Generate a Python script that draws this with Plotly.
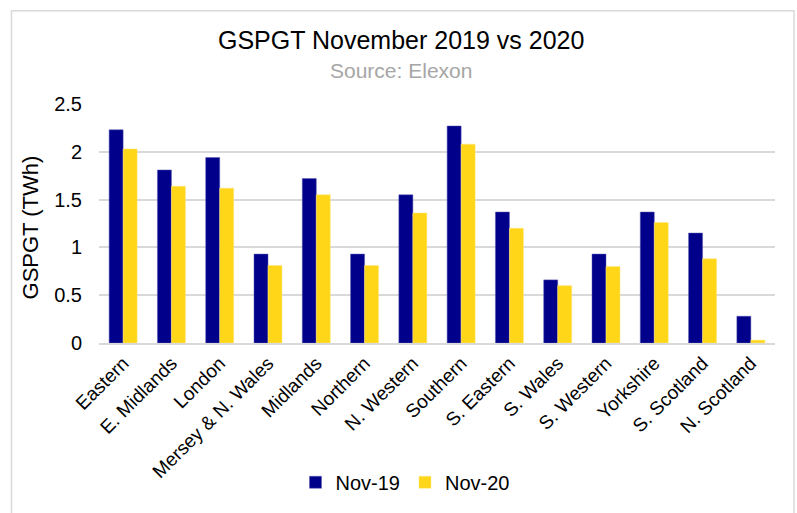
import plotly.graph_objects as go

regions = ["Eastern", "E. Midlands", "London", "Mersey & N. Wales", "Midlands",
           "Northern", "N. Western", "Southern", "S. Eastern", "S. Wales",
           "S. Western", "Yorkshire", "S. Scotland", "N. Scotland"]
nov19 = [2.23, 1.81, 1.94, 0.93, 1.72, 0.93, 1.55, 2.27, 1.37, 0.66, 0.93, 1.37, 1.15, 0.28]
nov20 = [2.03, 1.64, 1.62, 0.81, 1.55, 0.81, 1.36, 2.08, 1.20, 0.60, 0.80, 1.26, 0.88, 0.03]
yticks = [0, 0.5, 1, 1.5, 2, 2.5]
yticklabels = ["0", "0.5", "1", "1.5", "2", "2.5"]

FONT = "Liberation Sans, Arial, sans-serif"

fig = go.Figure()
fig.add_trace(go.Bar(x=regions, y=nov19, name="Nov-19",
                     marker=dict(color="#00008B", line=dict(color="#5a5ab0", width=0.5))))
fig.add_trace(go.Bar(x=regions, y=nov20, name="Nov-20",
                     marker=dict(color="#FFD618", line=dict(color="#ffe680", width=0.5))))

L, R, T, B = 99, 22, 104, 167
W, H = 797, 513
pw, ph = W - L - R, H - T - B

def px(x):
    return (x - L) / pw

def py(y):
    return (H - B - y) / ph

fig.update_layout(
    width=W, height=H,
    margin=dict(l=L, r=R, t=T, b=B),
    paper_bgcolor="white", plot_bgcolor="white",
    font=dict(family=FONT, color="#000000", size=19),
    barmode="group", bargap=0.42, bargroupgap=0,
    showlegend=True,
    legend=dict(orientation="h", x=px(405), xanchor="center", y=py(487), yanchor="middle",
                font=dict(size=20), traceorder="normal", itemwidth=30),
    xaxis=dict(tickangle=-45, tickfont=dict(size=19), showgrid=False,
               showline=True, linecolor="#d9d9d9", linewidth=1.5, ticks=""),
    yaxis=dict(range=[0, 2.5], tickvals=yticks, ticktext=yticklabels,
               tickfont=dict(size=20), showgrid=True, gridcolor="#d9d9d9", gridwidth=1.5,
               zeroline=False, showline=False, ticks="", ticklabelstandoff=16),
    annotations=[
        dict(text="GSPGT November 2019 vs 2020", xref="paper", yref="paper",
             x=px(400.5), y=py(39), xanchor="center", yanchor="middle", showarrow=False,
             font=dict(size=25, color="#000000")),
        dict(text="Source: Elexon", xref="paper", yref="paper",
             x=px(400.5), y=py(70), xanchor="center", yanchor="middle", showarrow=False,
             font=dict(size=21, color="#a6a6a6")),
        dict(text="GSPGT (TWh)", xref="paper", yref="paper", textangle=-90,
             x=px(30), y=py(229), xanchor="center", yanchor="middle", showarrow=False,
             font=dict(size=22, color="#000000")),
    ],
    shapes=[
        dict(type="rect", xref="paper", yref="paper",
             x0=px(11.5), x1=px(794), y0=py(525), y1=py(9.5),
             line=dict(color="#d9d9d9", width=1.5), fillcolor="rgba(0,0,0,0)", layer="below"),
    ],
)

fig.write_html("out.html")
